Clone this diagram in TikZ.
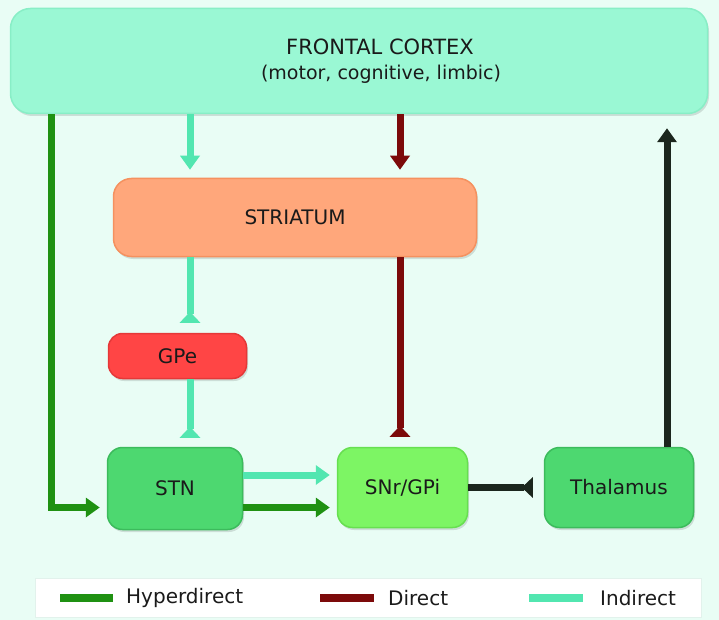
\documentclass[tikz,border=0pt]{standalone}
\usepackage{fontspec}
\setmainfont{DejaVu Sans}
\usetikzlibrary{arrows.meta,shadows,calc}

\definecolor{bgc}{HTML}{E9FDF5}
\definecolor{txt}{HTML}{1A1A1A}
\definecolor{cortexF}{HTML}{9AF8D4}
\definecolor{cortexD}{HTML}{88EEC6}
\definecolor{striF}{HTML}{FFA77B}
\definecolor{striD}{HTML}{F5915F}
\definecolor{gpeF}{HTML}{FF4545}
\definecolor{gpeD}{HTML}{E53838}
\definecolor{stnF}{HTML}{4DD870}
\definecolor{stnD}{HTML}{3CBB5C}
\definecolor{snrF}{HTML}{7DF564}
\definecolor{snrD}{HTML}{67DF50}
\definecolor{hypC}{HTML}{1F9112}
\definecolor{dirC}{HTML}{7C0A0A}
\definecolor{indC}{HTML}{52E6B0}
\definecolor{thaC}{HTML}{1B261D}
\definecolor{legB}{HTML}{E2F2EC}

\begin{document}
\begin{tikzpicture}[x=1pt,y=-1pt,
  box/.style={rectangle, rounded corners=15pt, line width=1.5pt, text=txt,
    font=\fontsize{20}{24}\selectfont, inner sep=0pt,
    drop shadow={shadow xshift=1.5pt, shadow yshift=-2.5pt, fill=black, opacity=0.12}},
  conn/.style={line width=7pt},
  hyp/.style={conn, draw=hypC},
  dir/.style={conn, draw=dirC},
  ind/.style={conn, draw=indC},
  tha/.style={conn, draw=thaC},
  arr/.style={-{Triangle[width=19pt,length=14pt]}},
  inh/.style={-{Triangle[reversed,width=20pt,length=11pt]}},
  legtext/.style={anchor=west, text=txt, font=\fontsize{20}{24}\selectfont, inner sep=0pt}
]
\fill[bgc] (0,0) rectangle (719,620);
\useasboundingbox (0,0) rectangle (719,620);

% boxes
\node[box, fill=cortexF, draw=cortexD, rounded corners=20pt,
  minimum width=697pt, minimum height=105pt] (cortex) at (359,61) {};
\node[text=txt, font=\fontsize{21}{25}\selectfont, inner sep=0pt] (ctitle) at (380,47) {FRONTAL CORTEX};
\node[text=txt, font=\fontsize{19}{23}\selectfont, inner sep=0pt] (csub) at (381,74) {(motor, cognitive, limbic)};

\node[box, fill=striF, draw=striD, rounded corners=18pt,
  minimum width=363pt, minimum height=78pt] (stri) at (295,217.5) {STRIATUM};
\node[box, fill=gpeF, draw=gpeD, rounded corners=14pt,
  minimum width=138pt, minimum height=45pt] (gpe) at (177.5,356) {GPe};
\node[box, fill=stnF, draw=stnD,
  minimum width=135pt, minimum height=82pt] (stn) at (175,488.5) {STN};
\node[box, fill=snrF, draw=snrD,
  minimum width=130pt, minimum height=80pt] (snr) at (402.5,487.5) {SNr/GPi};
\node[box, fill=stnF, draw=stnD,
  minimum width=149pt, minimum height=80pt] (thal) at (619,487.5) {Thalamus};

% x positions of vertical connectors
\coordinate (xh) at (51,0);
\coordinate (xi) at (190,0);
\coordinate (xd) at (400,0);
\coordinate (xt) at (667,0);
\coordinate (yhi) at (0,475);
\coordinate (ylo) at (0,507.5);

% hyperdirect
\draw[hyp, arr, shorten >=7pt] (cortex.south -| xh) |- (stn.west |- ylo);
\draw[hyp, arr, shorten >=7pt] (stn.east |- ylo) -- (snr.west |- ylo);
% indirect
\draw[ind, arr, shorten >=8pt] (cortex.south -| xi) -- (stri.north -| xi);
\draw[ind, inh, shorten >=10pt] (stri.south -| xi) -- (gpe.north -| xi);
\draw[ind, inh, shorten >=9pt] (gpe.south -| xi) -- (stn.north -| xi);
\draw[ind, arr, shorten >=7pt] (stn.east |- yhi) -- (snr.west |- yhi);
% direct
\draw[dir, arr, shorten >=8pt] (cortex.south -| xd) -- (stri.north -| xd);
\draw[dir, inh, shorten >=10pt] (stri.south -| xd) -- (snr.north -| xd);
% output
\draw[tha, inh, shorten >=11pt] (snr.east) -- (thal.west);
\draw[tha, arr, shorten >=14pt] (thal.north -| xt) -- (cortex.south -| xt);

% legend
\node[draw=legB, fill=white, line width=0.8pt, minimum width=666pt, minimum height=39pt, inner sep=0pt] (legend) at (368,597.5) {};
\draw[hyp, line width=8pt] (60,597.5) -- (113,597.5);
\node[legtext] (lh) at (126,598) {Hyperdirect};
\draw[dir, line width=8pt] (320,597.5) -- (374,597.5);
\node[legtext] (ld) at (388,598) {Direct};
\draw[ind, line width=8pt] (529,597.5) -- (583,597.5);
\node[legtext] (li) at (600,598) {Indirect};
\end{tikzpicture}
\end{document}
